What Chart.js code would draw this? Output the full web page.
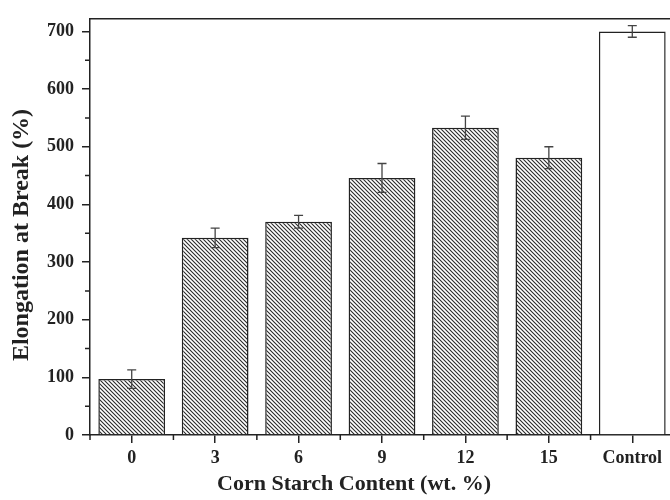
<!DOCTYPE html>
<html>
<head>
<meta charset="utf-8">
<script src="https://cdn.jsdelivr.net/npm/chart.js@4"></script>
<style>
  html, body { margin: 0; padding: 0; background: #fff; overflow: hidden; }
</style>
</head>
<body>
<canvas id="chart" width="680" height="500"></canvas>
<script>
// data
const categories = ['0', '3', '6', '9', '12', '15', 'Control'];
const elongation = [97, 342, 370, 446, 533, 481, 700];
const errors = [16, 17, 11, 25, 20, 19, 10];
const yTicks = [0, 100, 200, 300, 400, 500, 600, 700];

const ink = '#222';
const font = 'Liberation Serif';

// diagonal hatch (top-left to bottom-right)
function hatch() {
  const s = 4;
  const c = document.createElement('canvas');
  c.width = s; c.height = s;
  const g = c.getContext('2d');
  g.fillStyle = '#fff';
  g.fillRect(0, 0, s, s);
  g.strokeStyle = '#2a2a2a';
  g.lineWidth = 1.1;
  g.beginPath();
  g.moveTo(0, 0); g.lineTo(s, s);
  g.moveTo(-1, s - 1); g.lineTo(1, s + 1);
  g.moveTo(s - 1, -1); g.lineTo(s + 1, 1);
  g.stroke();
  return g.createPattern(c, 'repeat');
}

const ctx = document.getElementById('chart').getContext('2d');
const pat = hatch();
const fills = categories.map(c => c === 'Control' ? '#fff' : pat);

const extras = {
  id: 'extras',
  afterDatasetsDraw(chart) {
    const g = chart.ctx;
    const y = chart.scales.y;
    const x = chart.scales.x;
    const area = chart.chartArea;
    const meta = chart.getDatasetMeta(0);
    g.save();
    // error bars
    g.strokeStyle = '#444';
    g.lineWidth = 1.3;
    meta.data.forEach((bar, i) => {
      const top = y.getPixelForValue(elongation[i] + errors[i]);
      const bot = y.getPixelForValue(elongation[i] - errors[i]);
      g.beginPath();
      g.moveTo(bar.x, top); g.lineTo(bar.x, bot);
      g.moveTo(bar.x - 4.5, top); g.lineTo(bar.x + 4.5, top);
      g.moveTo(bar.x - 4.5, bot); g.lineTo(bar.x + 4.5, bot);
      g.stroke();
    });
    // frame top and right
    g.strokeStyle = ink;
    g.lineWidth = 1.5;
    g.beginPath();
    g.moveTo(area.left, area.top); g.lineTo(area.right, area.top);
    g.lineTo(area.right, area.bottom);
    g.stroke();
    // minor ticks
    g.beginPath();
    for (let v = 50; v < 720; v += 100) {
      const py = y.getPixelForValue(v);
      g.moveTo(area.left, py); g.lineTo(area.left - 5, py);
    }
    for (let i = 0; i <= categories.length; i++) {
      const px = x.getPixelForValue(i - 0.5);
      g.moveTo(px, area.bottom); g.lineTo(px, area.bottom + 5);
    }
    g.stroke();
    // axis titles
    g.fillStyle = ink;
    g.textAlign = 'center';
    g.textBaseline = 'middle';
    g.font = 'bold 22px "' + font + '"';
    g.fillText('Corn Starch Content (wt. %)', 354, 484);
    g.translate(22, 235);
    g.rotate(-Math.PI / 2);
    g.font = 'bold 24px "' + font + '"';
    g.fillText('Elongation at Break (%)', 0, 0);
    g.restore();
  }
};

new Chart(ctx, {
  type: 'bar',
  data: {
    labels: categories,
    datasets: [{
      data: elongation,
      backgroundColor: fills,
      borderColor: ink,
      borderWidth: 1.5,
      categoryPercentage: 1,
      barPercentage: 0.8
    }]
  },
  options: {
    responsive: false,
    animation: false,
    layout: { padding: { top: 15, right: 6 } },
    plugins: {
      legend: { display: false },
      tooltip: { enabled: false }
    },
    scales: {
      x: {
        afterFit(s) { s.height = 65; },
        grid: { offset: false, drawOnChartArea: false, tickLength: 8, color: ink, lineWidth: 1.5 },
        border: { color: ink, width: 1.5 },
        ticks: { color: ink, padding: 5, font: { family: font, size: 18, weight: 'bold' } }
      },
      y: {
        min: 0,
        max: 722,
        afterFit(s) { s.width = 90; },
        afterBuildTicks(s) { s.ticks = yTicks.map(v => ({ value: v })); },
        grid: { drawOnChartArea: false, tickLength: 8, color: ink, lineWidth: 1.5 },
        border: { color: ink, width: 1.5 },
        ticks: { color: ink, padding: 8, font: { family: font, size: 18, weight: 'bold' } }
      }
    }
  },
  plugins: [extras]
});
</script>
</body>
</html>
